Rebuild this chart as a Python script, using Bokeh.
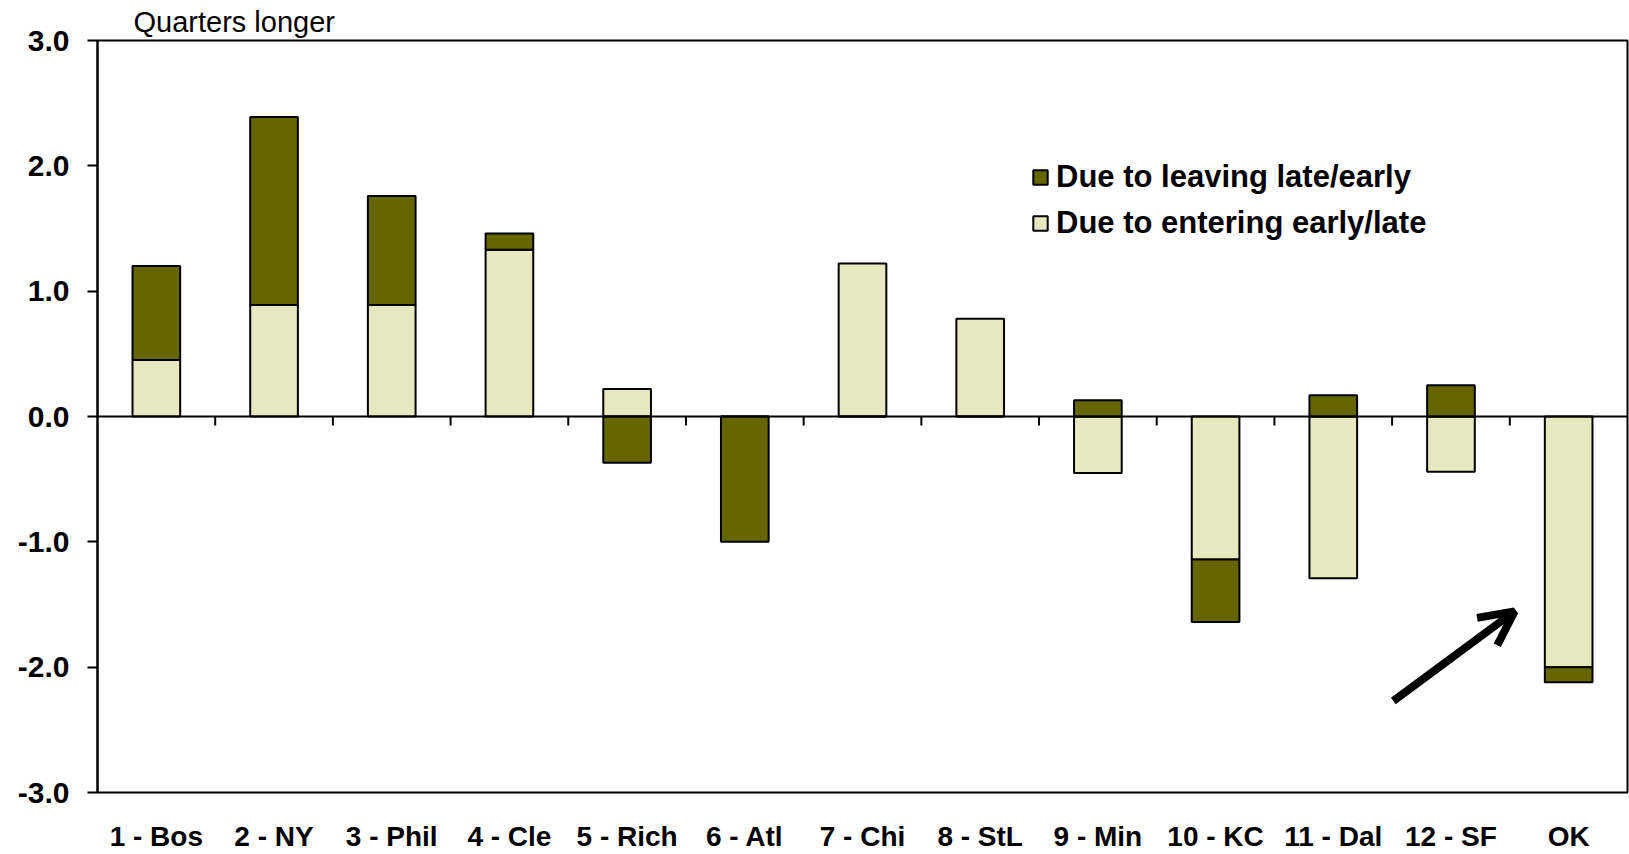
import numpy as np
from bokeh.plotting import figure
from bokeh.models import (ColumnDataSource, FixedTicker, Span, Legend, LegendItem,
                          Arrow, OpenHead, NumeralTickFormatter, Range1d)
from bokeh.embed import file_html
from bokeh.resources import INLINE

# ---- data ----
categories = ["1 - Bos", "2 - NY", "3 - Phil", "4 - Cle", "5 - Rich", "6 - Atl",
              "7 - Chi", "8 - StL", "9 - Min", "10 - KC", "11 - Dal", "12 - SF", "OK"]
entering = [0.45, 0.89, 0.89, 1.33, 0.22, 0.00, 1.22, 0.78, -0.45, -1.14, -1.29, -0.44, -2.00]
leaving = [0.75, 1.50, 0.87, 0.13, -0.37, -1.00, 0.00, 0.00, 0.13, -0.50, 0.17, 0.25, -0.12]
y_ticks = [-3, -2, -1, 0, 1, 2, 3]
series_names = ["Due to leaving late/early", "Due to entering early/late"]
unit_label = "Quarters longer"

DARK = "#666600"
LIGHT = "#E8E8C0"
FONT = "Liberation Sans"

n = len(categories)
xc = np.arange(n) + 0.5
ent = np.array(entering)
lev = np.array(leaving)
lev_bottom = np.where(np.sign(lev) == np.sign(ent), ent, 0.0)
lev_top = lev_bottom + lev

src = ColumnDataSource(dict(x=xc, ent=ent, zero=np.zeros(n), lb=lev_bottom, lt=lev_top))

p = figure(width=1629, height=854, x_range=Range1d(0, n), y_range=Range1d(-3, 3),
           output_backend="svg", toolbar_location=None,
           min_border_left=97, min_border_right=2, min_border_top=39, min_border_bottom=61)
p.background_fill_color = "white"
p.border_fill_color = "white"
p.outline_line_color = "black"
p.outline_line_width = 2
p.xgrid.visible = False
p.ygrid.visible = False

# unit label as title
p.title.text = unit_label
p.title.text_font = FONT
p.title.text_font_style = "normal"
p.title.text_font_size = "29px"
p.title.text_color = "black"
p.title.align = "left"
p.title.offset = 36
p.title.standoff = 6

r_ent = p.vbar(x="x", bottom="zero", top="ent", width=0.405, source=src,
               fill_color=LIGHT, line_color="black", line_width=2)
r_lev = p.vbar(x="x", bottom="lb", top="lt", width=0.405, source=src,
               fill_color=DARK, line_color="black", line_width=2)

# zero line and category-boundary tick marks
p.add_layout(Span(location=0, dimension="width", line_color="black", line_width=2))
bounds = np.arange(1, n)
p.segment(x0=bounds, y0=np.zeros(n - 1), x1=bounds, y1=np.full(n - 1, -0.072),
          line_color="black", line_width=2)

# y axis
ya = p.yaxis[0]
ya.ticker = FixedTicker(ticks=y_ticks)
ya.formatter = NumeralTickFormatter(format="0.0")
ya.axis_line_color = "black"
ya.axis_line_width = 2
ya.major_tick_line_color = "black"
ya.major_tick_line_width = 2
ya.major_tick_out = 10
ya.major_tick_in = 0
ya.minor_tick_line_color = None
ya.major_label_standoff = 18
ya.major_label_text_font = FONT
ya.major_label_text_font_style = "bold"
ya.major_label_text_font_size = "30px"
ya.major_label_text_color = "black"

# x axis
xa = p.xaxis[0]
xa.ticker = FixedTicker(ticks=list(xc))
xa.major_label_overrides = {float(v): c for v, c in zip(xc, categories)}
xa.axis_line_color = None
xa.major_tick_line_color = None
xa.minor_tick_line_color = None
xa.major_tick_out = 0
xa.major_tick_in = 0
xa.major_label_standoff = 28
xa.major_label_text_font = FONT
xa.major_label_text_font_style = "bold"
xa.major_label_text_font_size = "28px"
xa.major_label_text_color = "black"

# arrow
p.add_layout(Arrow(x_start=11.01, y_start=-2.27, x_end=12.04, y_end=-1.555,
                   line_color="black", line_width=8,
                   end=OpenHead(size=34, line_width=8, line_color="black")))

legend = Legend(items=[LegendItem(label=series_names[0], renderers=[r_lev]),
                       LegendItem(label=series_names[1], renderers=[r_ent])],
                location=(934, 551), orientation="vertical",
                label_text_font=FONT, label_text_font_style="bold",
                label_text_font_size="31px", label_text_color="black",
                glyph_width=18, glyph_height=18, label_height=30, label_standoff=7,
                spacing=10, padding=0, margin=0,
                border_line_color=None, background_fill_alpha=0)
p.add_layout(legend, "center")

open("out.html", "w").write(file_html(p, INLINE))
